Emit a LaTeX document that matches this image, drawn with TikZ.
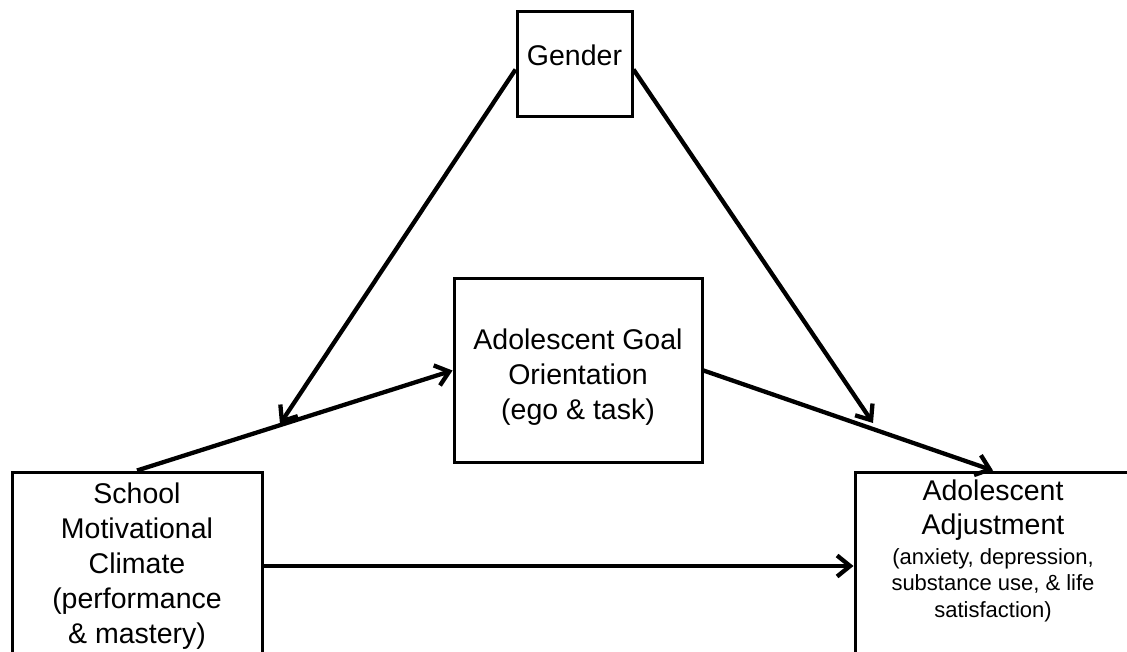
\documentclass[tikz,border=0pt]{standalone}
\usepackage{fontspec}
\setmainfont{Liberation Sans}
\usetikzlibrary{arrows.meta}
\begin{document}
\begin{tikzpicture}[x=1pt,y=-1pt,
  box/.style={draw=black, line width=3pt, fill=white, align=center, inner sep=0pt,
    font=\fontsize{28.5}{35}\selectfont},
  txt/.style={align=center, inner sep=0pt},
  conn/.style={line width=4.3pt, -{Straight Barb[length=13pt,width=21pt]}},
]
\useasboundingbox (0,0) rectangle (1127,652);
\clip (0,0) rectangle (1127,652);
\fill[white] (0,0) rectangle (1127,652);

\node[box, minimum width=115pt, minimum height=105pt, text height=21pt, text depth=19pt] (gender) at (574.5,64.5) {Gender};
\node[box, minimum width=248pt, minimum height=183pt] (goal) at (578,370.5) {};
\node[txt, font=\fontsize{28.5}{35}\selectfont] (goaltext) at (578,377.5) {Adolescent Goal\\Orientation\\(ego \& task)};
\node[box, minimum width=250pt, minimum height=188pt] (school) at (137,566) {School\\Motivational\\Climate\\(performance\\\& mastery)};
\node[box, minimum width=276pt, minimum height=228pt] (adj) at (993,586) {};
\node[txt, font=\fontsize{28.5}{34}\selectfont] (adjtitle) at (993,510) {Adolescent\\Adjustment};
\node[txt, font=\fontsize{22}{26.5}\selectfont] (adjsub) at (993,585) {(anxiety, depression,\\substance use, \& life\\satisfaction)};

\coordinate (tipL) at (280,424);
\coordinate (tipR) at (873,423);

\draw[conn] ([yshift=-5pt]gender.west) -- (tipL);
\draw[conn] ([yshift=-5pt]gender.east) -- (tipR);
\draw[conn] (school.north) -- (goal.west);
\draw[conn] (goal.east) -- (adj.north);
\draw[conn] (school.east) -- (school.east -| adj.west);
\end{tikzpicture}
\end{document}
